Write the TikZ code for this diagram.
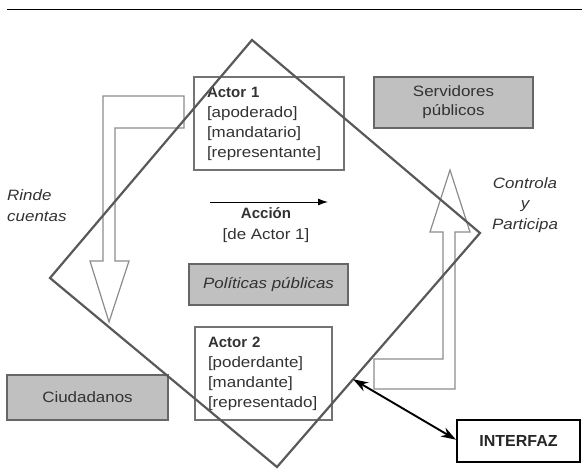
\documentclass[tikz,border=0pt]{standalone}
\usepackage{fontspec}
\setmainfont{Liberation Sans}[FakeStretch=1.13]
\newfontfamily\boldfam{Liberation Sans}
\usetikzlibrary{arrows.meta,calc}
\definecolor{boxgray}{RGB}{192,192,192}
\definecolor{txtgray}{RGB}{50,50,50}
\tikzset{
  base/.style={font=\fontsize{15}{20}\selectfont, text=txtgray, inner sep=0pt},
  actorbox/.style={base, draw=black!55, line width=1.1pt, align=left},
  graybox/.style={base, draw=black!60, fill=boxgray, line width=1.3pt, align=center},
  hollowarrow/.style={draw=black!45, fill=white, line width=1.2pt, line join=miter},
  diamondline/.style={draw=black!65, line width=2.2pt, line join=miter},
  lbl/.style={base, font=\fontsize{15}{20.5}\selectfont\itshape},
  bigtip/.tip={Stealth[length=15pt,width=10pt]}
}
\begin{document}
\begin{tikzpicture}[x=1pt,y=-1pt]
\useasboundingbox (0,0) rectangle (582,469);
% top rule
\coordinate (rl) at (7,9.5);
\coordinate (rr) at (582,9.5);
\draw[line width=1.5pt] (rl) -- (rr);
% hollow arrows
\draw[hollowarrow] (103,96) -- (184,96) -- (184,128) -- (115,128) -- (115,261) -- (129,261) -- (109,322) -- (90,261) -- (103,261) -- cycle;
\draw[hollowarrow] (374,359) -- (443,359) -- (443,232) -- (430,232) -- (450,170) -- (470,232) -- (455,232) -- (455,389) -- (374,389) -- cycle;
% boxes
\node[actorbox, minimum width=150pt, minimum height=93pt, text width=124pt] (actor1) at (269,123.5)
  {{\boldfam\bfseries Actor 1}\\{[apoderado]}\\{[mandatario]}\\{[representante]}};
\node[actorbox, minimum width=137pt, minimum height=93pt, text width=111pt] (actor2) at (263.5,373.5)
  {{\boldfam\bfseries Actor 2}\\{[poderdante]}\\{[mandante]}\\{[representado]}};
\node[graybox, minimum width=159pt, minimum height=51pt, font=\fontsize{15}{19}\selectfont] (serv) at (453.5,102.5) {Servidores\\públicos};
\node[graybox, minimum width=159pt, minimum height=41pt, font=\fontsize{15}{20}\selectfont\itshape] (pol) at (268.5,284.5) {Políticas públicas};
\node[graybox, minimum width=161pt, minimum height=45pt] (ciud) at (87.5,397.5) {Ciudadanos};
\node[base, draw=black, line width=2pt, minimum width=123pt, minimum height=42pt, text=black!85, font=\fontsize{16}{20}\boldfam\bfseries] (interfaz) at (518.5,441) {INTERFAZ};
% accion
\coordinate (acs) at (210,202);
\coordinate (ace) at (328,202);
\draw[line width=1pt, -{Latex[length=10pt,width=7pt]}] (acs) -- (ace);
\node[base, align=center, font=\fontsize{15}{21}\selectfont] (accion) at (266,225) {{\boldfam\bfseries Acción}\\{[de Actor 1]}};
% labels
\node[lbl, align=left, anchor=west, font=\fontsize{15}{21}\selectfont\itshape] (rinde) at (7,206) {Rinde\\cuentas};
\node[lbl, align=center] (controla) at (525,205) {Controla\\y\\Participa};
% diamond
\coordinate (T) at (252,40);
\coordinate (R) at (480,233);
\coordinate (B) at (277,467);
\coordinate (L) at (50,278);
\draw[diamondline] (T) -- (R) -- (B) -- (L) -- cycle;
% interface arrow
\coordinate (dpt) at ($(R)!0.625!(B)$);
\coordinate (ifz) at ($(interfaz.north west)!0.47!(interfaz.south west)$);
\draw[line width=1.9pt, {bigtip}-{bigtip}] (dpt) -- (ifz);
\end{tikzpicture}
\end{document}
